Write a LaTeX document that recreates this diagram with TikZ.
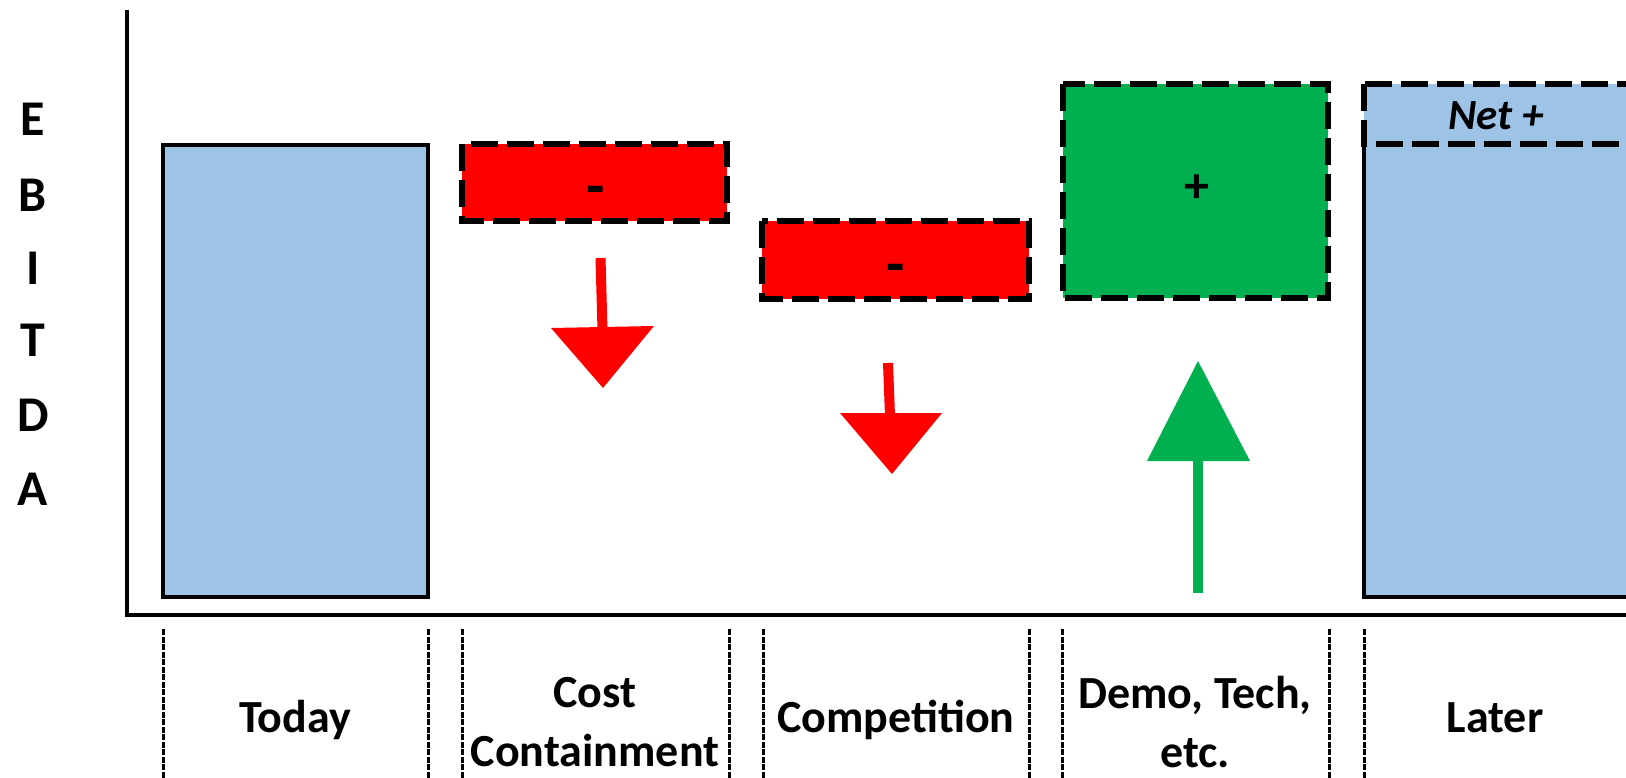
\documentclass[tikz,border=0pt]{standalone}
\usepackage{fontspec}
\setmainfont{Carlito}
\definecolor{barblue}{HTML}{9DC3E6}
\definecolor{downred}{HTML}{FF0000}
\definecolor{upgreen}{HTML}{00B050}
\begin{document}
\begin{tikzpicture}[x=1pt,y=-1pt,
  lbl/.style={font=\fontsize{46}{59}\selectfont\bfseries, align=center, inner sep=0pt},
  axisletter/.style={font=\fontsize{50}{60}\selectfont\bfseries, inner sep=0pt},
  signtxt/.style={font=\fontsize{50}{58}\selectfont\bfseries, inner sep=0pt},
  minustxt/.style={font=\fontsize{60}{68}\selectfont\bfseries, inner sep=0pt},
  solidbar/.style={draw=black, line width=3.5pt, fill=barblue},
  dashbox/.style={draw=black, line width=6pt, dash pattern=on 27pt off 9pt},
  colsep/.style={draw=black, line width=3pt, dash pattern=on 6pt off 1.5pt},
  axisline/.style={draw=black, line width=3.5pt},
  stem/.style={line width=10pt}]
\useasboundingbox (0,0) rectangle (1626,778);
\clip (0,0) rectangle (1626,778);

% vertical axis label
\foreach \ch/\yy/\nm in {E/119/lE, B/195/lB, I/268/lI, T/340/lT, D/415/lD, A/489/lA}
  \node[axisletter] (\nm) at (33,\yy) {\ch};

% bars
\path[solidbar] (163,145) rectangle (428,597);
\path[dashbox, fill=downred] (462,144) rectangle (727,221);
\path[dashbox, fill=downred] (762,221) rectangle (1029,299);
\path[dashbox, fill=upgreen] (1063,84) rectangle (1328,298);
% later bar: solid lower part, dashed "net" cap on top
\fill[barblue] (1364,144) rectangle (1660,597);
\draw[draw=black, line width=3.5pt] (1364,146) -- (1364,597) -- (1660,597);
\path[dashbox, fill=barblue] (1364,84) rectangle (1660,144);

% signs inside the boxes
\node[minustxt] (mCost) at (596,196) {-};
\node[minustxt] (mComp) at (896,274) {-};
\node[signtxt] (pDemo) at (1197,189) {+};
\node[signtxt, font=\fontsize{43}{50}\selectfont\bfseries\itshape] (net) at (1496,116) {Net +};

% arrows
\draw[stem, downred] (600.5,258) -- (602.5,330);
\fill[downred] (551,328) -- (654,326) -- (603,388) -- cycle;
\draw[stem, downred] (888,363) -- (890,416);
\fill[downred] (840,413) -- (942,413) -- (892,474) -- cycle;
\draw[stem, upgreen] (1198,593) -- (1198,458);
\fill[upgreen] (1147,461) -- (1250,461) -- (1198,361) -- cycle;

% axes
\draw[axisline] (127,10) -- (127,615) -- (1626,615);

% column separators
\foreach \xx in {163,428,462,729,763,1029,1062,1329,1364}
  \draw[colsep] (\xx,629) -- (\xx,778);

% category labels
\node[lbl, anchor=base] (today) at (295,732) {Today};
\node[lbl, anchor=center] (cost) at (595,722) {Cost\\Containment};
\node[lbl, anchor=base] (comp) at (896,732) {Competition};
\node[lbl, anchor=center] (demo) at (1195,722) {Demo, Tech,\\etc.};
\node[lbl, anchor=base] (later) at (1495,732) {Later};
\end{tikzpicture}
\end{document}
